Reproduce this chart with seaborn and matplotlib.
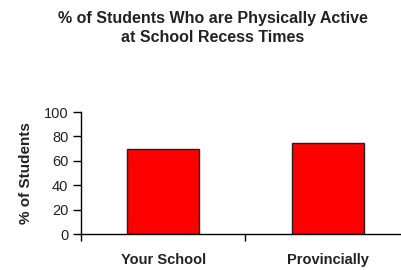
import matplotlib
matplotlib.use("Agg")
import matplotlib.pyplot as plt
import seaborn as sns
import pandas as pd
from matplotlib.ticker import FixedLocator

categories = ["Your School", "Provincially"]
values = [70, 75]
yticks = [0, 20, 40, 60, 80, 100]
title = "% of Students Who are Physically Active\nat School Recess Times"
ylabel = "% of Students"

sns.set_theme(style="white")
plt.rcParams['font.family'] = ['Liberation Sans', 'DejaVu Sans']

df = pd.DataFrame({"cat": categories, "val": values})

fig = plt.figure(figsize=(4.02, 2.70), dpi=100)
W, H = 402, 270
left, right, top, bottom = 81, 410, 112, 234
ax = fig.add_axes([left / W, 1 - bottom / H, (right - left) / W, (bottom - top) / H])

sns.barplot(data=df, x="cat", y="val", color="#FF0000", width=0.435,
            edgecolor="#222222", linewidth=1.0, saturation=1, ax=ax)

ax.set_xlim(-0.5, 1.5)
ax.set_ylim(0, 100)
ax.set_yticks(yticks)
ax.set_yticklabels([str(t) for t in yticks], fontsize=10.5, color="#222222")
ax.set_xlabel("")
ax.set_ylabel(ylabel, fontsize=11, fontweight="bold", color="#222222", labelpad=8)
ax.set_xticks([0, 1])
ax.set_xticklabels(categories, fontsize=10.5, fontweight="bold", color="#222222")
ax.xaxis.set_minor_locator(FixedLocator([-0.5, 0.5, 1.5]))
ax.tick_params(axis="x", which="major", length=0, pad=14, bottom=True)
ax.tick_params(axis="x", which="minor", length=5, width=1, color="black",
               direction="out", bottom=True)
ax.tick_params(axis="y", which="major", length=6, width=1, color="black",
               direction="out", pad=3, left=True)

for s in ["top", "right"]:
    ax.spines[s].set_visible(False)
for s in ["left", "bottom"]:
    ax.spines[s].set_color("black")
    ax.spines[s].set_linewidth(1.0)

fig.text(213 / W, 1 - 28 / H, title, ha="center", va="center", fontsize=11.5,
         fontweight="bold", color="#222222", linespacing=1.3)

fig.savefig("out.png", dpi=100, facecolor="white")
